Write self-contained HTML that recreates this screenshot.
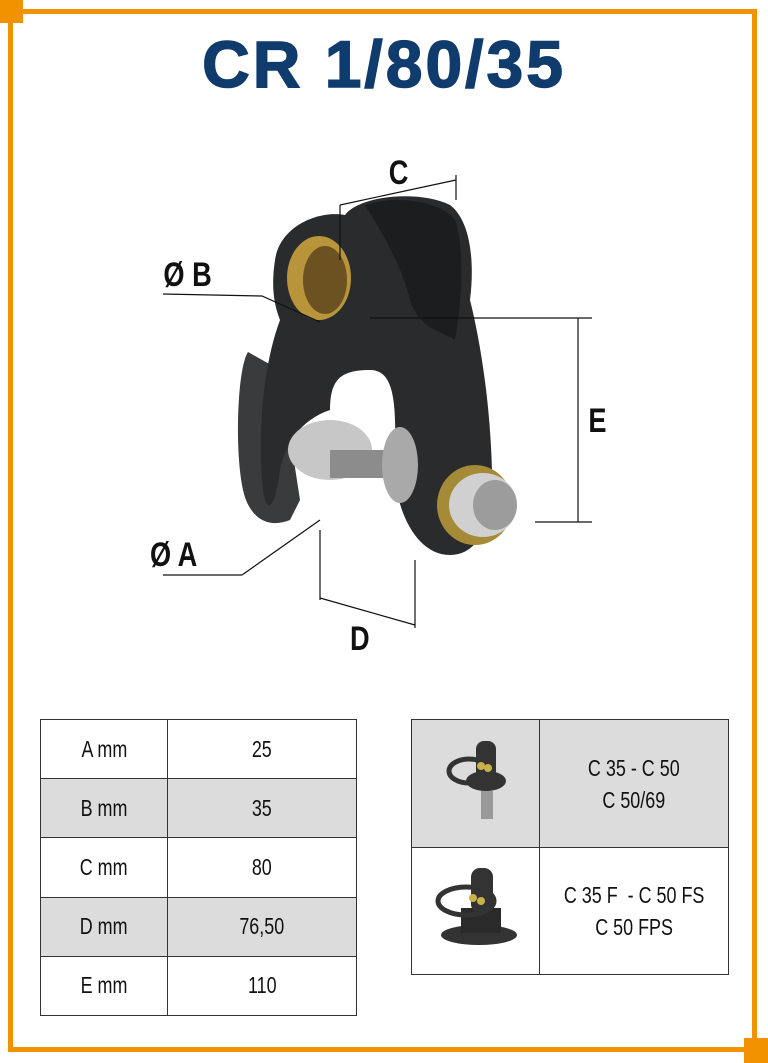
<!DOCTYPE html>
<html><head><meta charset="utf-8"><style>
body{margin:0;width:768px;height:1063px;position:relative;background:#fff;font-family:"Liberation Sans",sans-serif;overflow:hidden}
.o{position:absolute;background:#f39200}
.t{position:absolute;border-collapse:collapse}
.t td{border:1px solid #333;text-align:center;font-size:23px;color:#111;padding:0}
.n{display:inline-block;transform:scaleX(0.78)}
.g{background:#dcdcdc}
</style></head><body>
<div class="o" style="left:0;top:0;width:23px;height:23px"></div>
<div class="o" style="left:23px;top:9px;width:734px;height:5px"></div>
<div class="o" style="left:8px;top:23px;width:5px;height:1029px"></div>
<div class="o" style="left:752px;top:9px;width:5px;height:1035px"></div>
<div class="o" style="left:8px;top:1047px;width:740px;height:5px"></div>
<div class="o" style="left:744px;top:1038px;width:24px;height:25px"></div>
<div style="position:absolute;left:0;width:768px;top:26px;text-align:center;font-weight:bold;font-size:66px;color:#0f3b6d;letter-spacing:3px;-webkit-text-stroke:1.5px #0f3b6d">CR 1/80/35</div>
<svg style="position:absolute;left:0;top:0" width="768" height="1063">
<g fill="#2a2b2d">
<path d="M248 352 C236 370 234 470 246 500 C254 520 270 528 290 520 L300 500 L280 370 Z" fill="#3a3b3d"/>
<path d="M275 260 C280 225 320 210 345 215 C360 195 420 190 450 205 C470 220 475 260 470 300 C480 340 490 400 492 470 C494 520 480 555 450 555 C420 555 400 520 395 480 C395 420 400 370 370 370 C340 370 330 380 330 410 C300 420 285 445 280 470 C275 510 265 520 262 480 C258 420 265 360 280 320 C272 300 272 280 275 260 Z"/>
<path d="M365 205 C395 195 440 200 455 220 C465 250 462 300 455 340 C440 330 420 330 410 300 C400 260 380 230 365 205 Z" fill="#1c1d1f"/>
</g>
<ellipse cx="319" cy="278" rx="32" ry="42" fill="#b8943a"/>
<ellipse cx="325" cy="280" rx="22" ry="34" fill="#6b5220"/>
<ellipse cx="330" cy="450" rx="42" ry="30" fill="#c7c7c7"/>
<rect x="330" y="450" width="75" height="28" fill="#8c8c8c"/>
<ellipse cx="400" cy="465" rx="18" ry="38" fill="#a9a9a9"/>
<ellipse cx="475" cy="505" rx="38" ry="40" fill="#a58a38"/>
<ellipse cx="483" cy="505" rx="34" ry="32" fill="#d0d0d0"/>
<ellipse cx="495" cy="505" rx="22" ry="25" fill="#9c9c9c"/>
<g stroke="#111" stroke-width="1.2" fill="none">
<line x1="340" y1="205" x2="456" y2="180"/><line x1="340" y1="205" x2="340" y2="260"/><line x1="456" y1="175" x2="456" y2="200"/>
<path d="M163 294 L262 296 L320 322"/>
<path d="M242 575 L320 520"/><line x1="163" y1="575" x2="242" y2="575"/>
<line x1="320" y1="530" x2="320" y2="600"/><line x1="415" y1="560" x2="415" y2="628"/><line x1="320" y1="598" x2="415" y2="625"/>
<line x1="370" y1="318" x2="592" y2="318"/><line x1="535" y1="522" x2="592" y2="522"/><line x1="578" y1="318" x2="578" y2="522"/>
</g>
<g font-size="34" font-weight="bold" font-family="Liberation Sans,sans-serif" fill="#111">
<text x="386" y="184" transform="translate(80 0) scale(0.8 1)">C</text>
<text x="163" y="286" transform="translate(33 0) scale(0.8 1)">Ø B</text>
<text x="150" y="566" transform="translate(30 0) scale(0.8 1)">Ø A</text>
<text x="350" y="650" transform="translate(70 0) scale(0.8 1)">D</text>
<text x="588" y="432" transform="translate(118 0) scale(0.8 1)">E</text>
</g>
</svg>
<table class="t" style="left:40px;top:719px;width:317px;height:297px">
<tr><td style="width:126px"><span class="n">A mm</span></td><td><span class="n">25</span></td></tr>
<tr class="g"><td><span class="n">B mm</span></td><td><span class="n">35</span></td></tr>
<tr><td><span class="n">C mm</span></td><td><span class="n">80</span></td></tr>
<tr class="g"><td><span class="n">D mm</span></td><td><span class="n">76,50</span></td></tr>
<tr><td><span class="n">E mm</span></td><td><span class="n">110</span></td></tr>
</table>
<table class="t" style="left:411px;top:719px;width:318px;height:256px">
<tr class="g"><td style="width:127px;height:127px"><svg width="70" height="90"><rect x="40" y="55" width="12" height="28" fill="#999"/><ellipse cx="45" cy="45" rx="20" ry="10" fill="#333"/><ellipse cx="28" cy="35" rx="20" ry="12" fill="none" stroke="#333" stroke-width="5"/><rect x="35" y="5" width="20" height="38" rx="8" fill="#333"/><circle cx="40" cy="30" r="4" fill="#c9b24a"/><circle cx="47" cy="32" r="4" fill="#c9b24a"/></svg></td><td style="line-height:32px"><span class="n">C 35 - C 50<br>C 50/69</span></td></tr>
<tr><td><svg width="90" height="90"><ellipse cx="48" cy="72" rx="38" ry="10" fill="#333"/><rect x="30" y="45" width="40" height="25" fill="#2a2a2a"/><ellipse cx="35" cy="38" rx="28" ry="14" fill="none" stroke="#333" stroke-width="5"/><rect x="40" y="5" width="22" height="45" rx="9" fill="#333"/><circle cx="42" cy="35" r="4" fill="#c9b24a"/><circle cx="50" cy="38" r="4" fill="#c9b24a"/></svg></td><td style="line-height:32px"><span class="n">C 35 F &nbsp;- C 50 FS<br>C 50 FPS</span></td></tr>
</table>
</body></html>
